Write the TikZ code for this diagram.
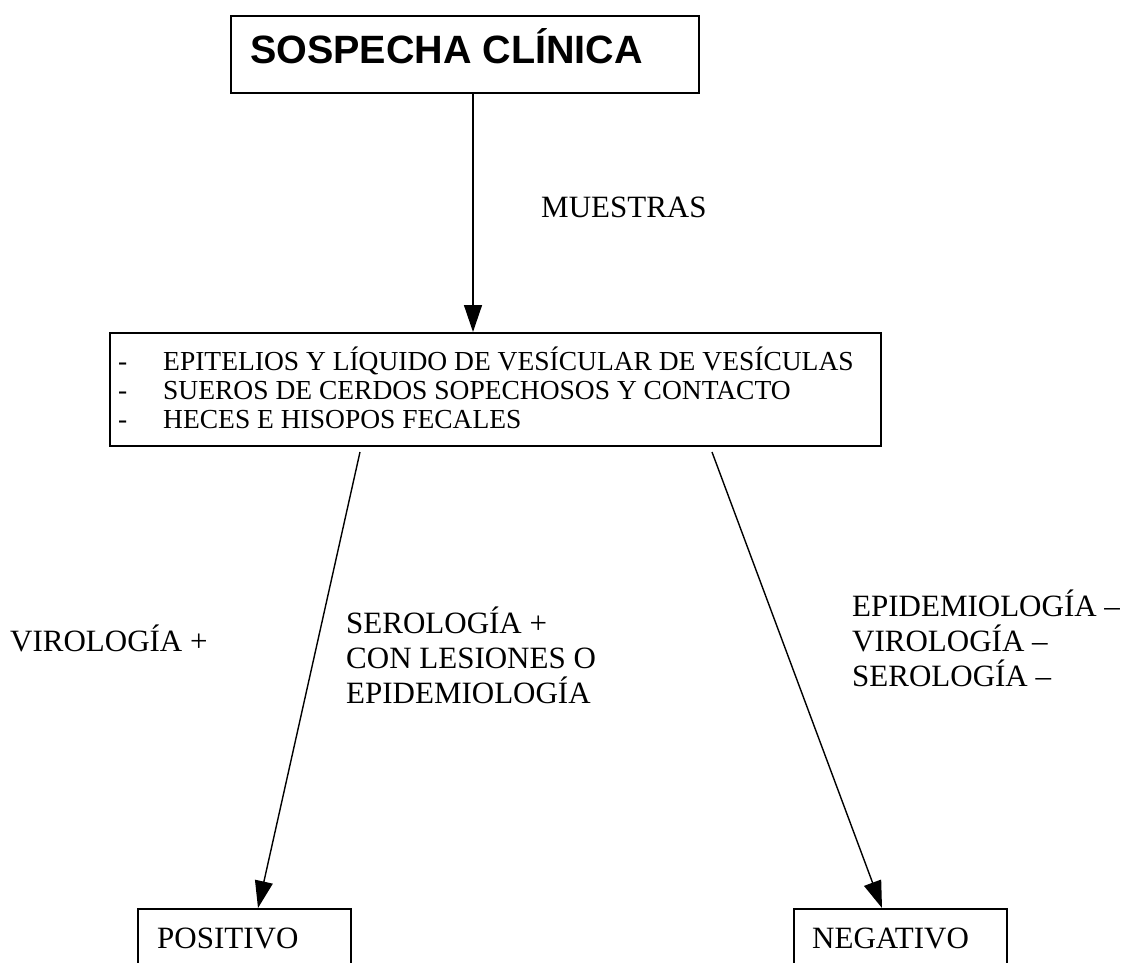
\documentclass[tikz,border=0pt]{standalone}
\usepackage{fontspec}
\setmainfont{Liberation Serif}
\newfontfamily\titlefont{Liberation Sans}
\usetikzlibrary{arrows.meta}
\begin{document}
\begin{tikzpicture}[x=1pt,y=-1pt,
  boxnode/.style={draw, line width=1.8pt, rectangle, inner sep=0pt, anchor=north west},
  lbl/.style={anchor=base west, inner sep=0pt, font=\fontsize{31}{35}\selectfont},
  lst/.style={anchor=base west, inner sep=0pt, font=\fontsize{27.5}{29}\selectfont},
  arr/.style={line width=1.4pt, -{Triangle[length=27pt,width=18pt]}}]
\useasboundingbox (0,0) rectangle (1133,962);
\clip (0,0) rectangle (1133,962);
% boxes
\node[boxnode, minimum width=468pt, minimum height=77pt] (top) at (230,15) {};
\node[anchor=base west, inner sep=0pt, font=\titlefont\bfseries\fontsize{39.5}{42}\selectfont] (title) at (250,63) {SOSPECHA CLÍNICA};
\node[boxnode, minimum width=771pt, minimum height=113pt] (mid) at (109,332) {};
\node[boxnode, minimum width=213pt, minimum height=80pt] (pos) at (137,908) {};
\node[boxnode, minimum width=213pt, minimum height=80pt] (neg) at (793,908) {};
% list
\node[lst] (d1) at (118,370) {-};
\node[lst] (t1) at (163,370) {EPITELIOS Y LÍQUIDO DE VESÍCULAR DE VESÍCULAS};
\node[lst] (d2) at (118,399) {-};
\node[lst] (t2) at (163,399) {SUEROS DE CERDOS SOPECHOSOS Y CONTACTO};
\node[lst] (d3) at (118,428) {-};
\node[lst] (t3) at (163,428) {HECES E HISOPOS FECALES};
% box texts
\node[lbl] (tpos) at (157,948) {POSITIVO};
\node[lbl] (tneg) at (812,948) {NEGATIVO};
% labels
\node[lbl] (muestras) at (541,217) {MUESTRAS};
\node[lbl] (viro) at (10,651) {VIROLOGÍA +};
\node[lbl, align=left] (sero) at (346,703) {SEROLOGÍA +\\CON LESIONES O\\EPIDEMIOLOGÍA};
\node[lbl, align=left] (epi) at (852,686) {EPIDEMIOLOGÍA –\\VIROLOGÍA –\\SEROLOGÍA –};
% connectors
\coordinate (l0) at (360,452);
\coordinate (ltip) at (258,908);
\coordinate (r0) at (712,452);
\coordinate (rtip) at (882,908);
\draw[arr] (top.south -| 473,0) -- (mid.north -| 473,0);
\draw[arr] (l0) -- (ltip);
\draw[arr] (r0) -- (rtip);
\end{tikzpicture}
\end{document}
